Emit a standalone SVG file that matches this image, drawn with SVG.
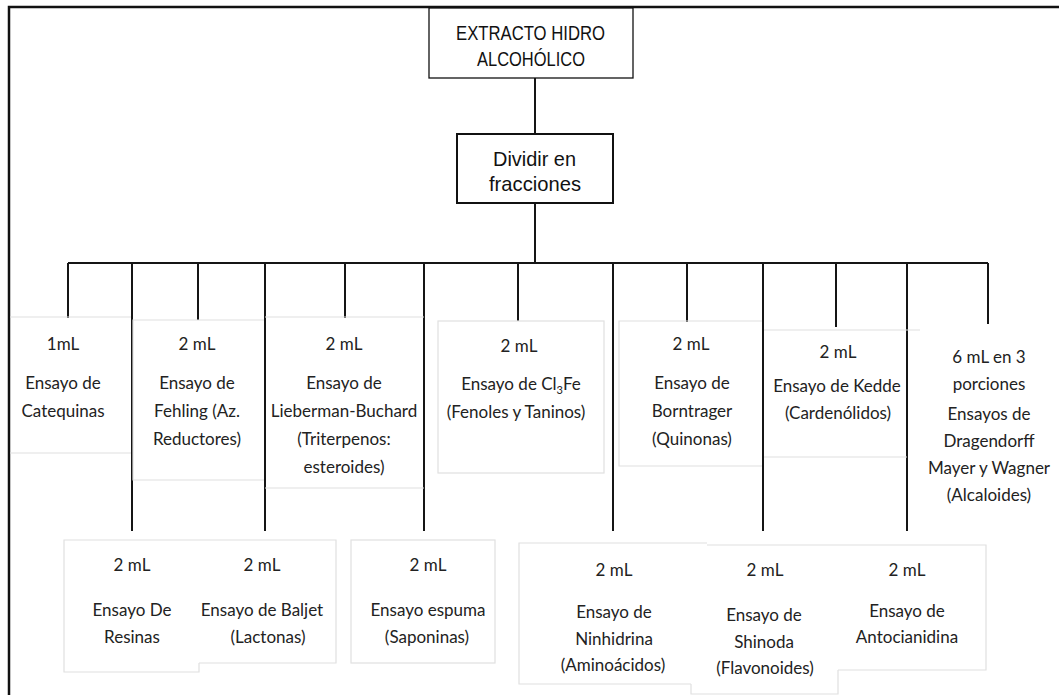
<svg xmlns="http://www.w3.org/2000/svg" width="1059" height="695" viewBox="0 0 1059 695">
<style>
.frame{stroke:#111;stroke-width:2.5;fill:none}
.conn{stroke:#151515;stroke-width:2;fill:none}
.bx{stroke:#e0e0e0;stroke-width:1.2;fill:none}
.box{stroke:#111;fill:#fff}
.t{font-family:Lato,"Open Sans",sans-serif;font-size:17px;fill:#222;text-anchor:middle}
.n{font-family:"Liberation Sans",Arial,sans-serif;fill:#111}
</style>
<rect x="0" y="0" width="1059" height="695" fill="#fff"/>
<path class="frame" d="M9,695 V7 H1059"/>
<g id="connectors">
<path class="conn" d="M535,78 V134 M535,203 V263 M68,263 H988"/>
<path class="conn" d="M68,263 V318 M198,263 V320 M345,263 V318 M518,263 V321 M687,263 V322 M836,263 V327 M988,263 V324"/>
<path class="conn" d="M132,263 V531 M265,263 V531 M424,263 V531 M613,263 V531 M763,263 V531 M907,263 V531"/>
</g>
<g id="extracto">
<rect class="box" x="429" y="8" width="204" height="70" stroke-width="1.3"/>
<text class="n" x="456" y="40" font-size="21" textLength="149" lengthAdjust="spacingAndGlyphs">EXTRACTO  HIDRO</text>
<text class="n" x="477" y="66" font-size="21" textLength="108" lengthAdjust="spacingAndGlyphs">ALCOHÓLICO</text>
</g>
<g id="dividir">
<rect class="box" x="457" y="134" width="156" height="69" stroke-width="2"/>
<text class="n" x="493" y="166" font-size="21" textLength="83" lengthAdjust="spacingAndGlyphs">Dividir en</text>
<text class="n" x="489" y="191" font-size="21" textLength="92" lengthAdjust="spacingAndGlyphs">fracciones</text>
</g>
<g id="catequinas">
<path class="bx" d="M10,317 H131 M10,453 H131"/>
<text class="t" x="63" y="350">1mL</text>
<text class="t" x="63" y="389">Ensayo de</text>
<text class="t" x="63" y="417">Catequinas</text>
</g>
<g id="fehling">
<path class="bx" d="M264,320 H133 V480 H264"/>
<text class="t" x="197" y="350">2 mL</text>
<text class="t" x="197" y="389">Ensayo de</text>
<text class="t" x="197" y="417">Fehling (Az.</text>
<text class="t" x="197" y="445">Reductores)</text>
</g>
<g id="lieberman">
<path class="bx" d="M265,317 H424 M265,488 H424"/>
<text class="t" x="344" y="350">2 mL</text>
<text class="t" x="344" y="389">Ensayo de</text>
<text class="t" x="344" y="417">Lieberman-Buchard</text>
<text class="t" x="344" y="445">(Triterpenos:</text>
<text class="t" x="344" y="473">esteroides)</text>
</g>
<g id="cl3fe">
<rect class="bx" x="438" y="321" width="166" height="152"/>
<text class="t" x="519" y="352">2 mL</text>
<text class="t" x="521" y="390">Ensayo de Cl<tspan font-size="11" dy="4">3</tspan><tspan dy="-4">Fe</tspan></text>
<text class="t" x="516" y="418">(Fenoles y Taninos)</text>
</g>
<g id="borntrager">
<path class="bx" d="M762,321 H619 V466 H762"/>
<text class="t" x="691" y="350">2 mL</text>
<text class="t" x="692" y="389">Ensayo de</text>
<text class="t" x="692" y="417">Borntrager</text>
<text class="t" x="692" y="445">(Quinonas)</text>
</g>
<g id="kedde">
<path class="bx" d="M764,330 H920 M764,457 H907"/>
<text class="t" x="838" y="358">2 mL</text>
<text class="t" x="837" y="392">Ensayo de Kedde</text>
<text class="t" x="838" y="419">(Cardenólidos)</text>
</g>
<g id="alcaloides">
<text class="t" x="989" y="363">6 mL en 3</text>
<text class="t" x="989" y="390">porciones</text>
<text class="t" x="989" y="420">Ensayos de</text>
<text class="t" x="989" y="447">Dragendorff</text>
<text class="t" x="989" y="474">Mayer y Wagner</text>
<text class="t" x="989" y="501">(Alcaloides)</text>
</g>
<g id="resinas">
<path class="bx" d="M199,540 H64 V672 H199 V663"/>
<text class="t" x="132" y="571">2 mL</text>
<text class="t" x="132" y="616">Ensayo De</text>
<text class="t" x="132" y="643">Resinas</text>
</g>
<g id="baljet">
<path class="bx" d="M199,540 H336 V663 H199"/>
<text class="t" x="262" y="571">2 mL</text>
<text class="t" x="262" y="616">Ensayo de Baljet</text>
<text class="t" x="268" y="643">(Lactonas)</text>
</g>
<g id="espuma">
<rect class="bx" x="351" y="540" width="144" height="123"/>
<text class="t" x="428" y="571">2 mL</text>
<text class="t" x="428" y="616">Ensayo espuma</text>
<text class="t" x="427" y="643">(Saponinas)</text>
</g>
<g id="ninhidrina">
<path class="bx" d="M707,543 H519 V684 H691"/>
<text class="t" x="614" y="576">2 mL</text>
<text class="t" x="614" y="618">Ensayo de</text>
<text class="t" x="614" y="645">Ninhidrina</text>
<text class="t" x="613" y="671">(Aminoácidos)</text>
</g>
<g id="shinoda">
<path class="bx" d="M691,684 V694 H838 V670"/>
<text class="t" x="765" y="576">2 mL</text>
<text class="t" x="764" y="621">Ensayo de</text>
<text class="t" x="764" y="648">Shinoda</text>
<text class="t" x="765" y="674">(Flavonoides)</text>
</g>
<g id="antocianidina">
<path class="bx" d="M707,545 H986 V670 H838"/>
<text class="t" x="907" y="576">2 mL</text>
<text class="t" x="907" y="617">Ensayo de</text>
<text class="t" x="907" y="643">Antocianidina</text>
</g>
</svg>
